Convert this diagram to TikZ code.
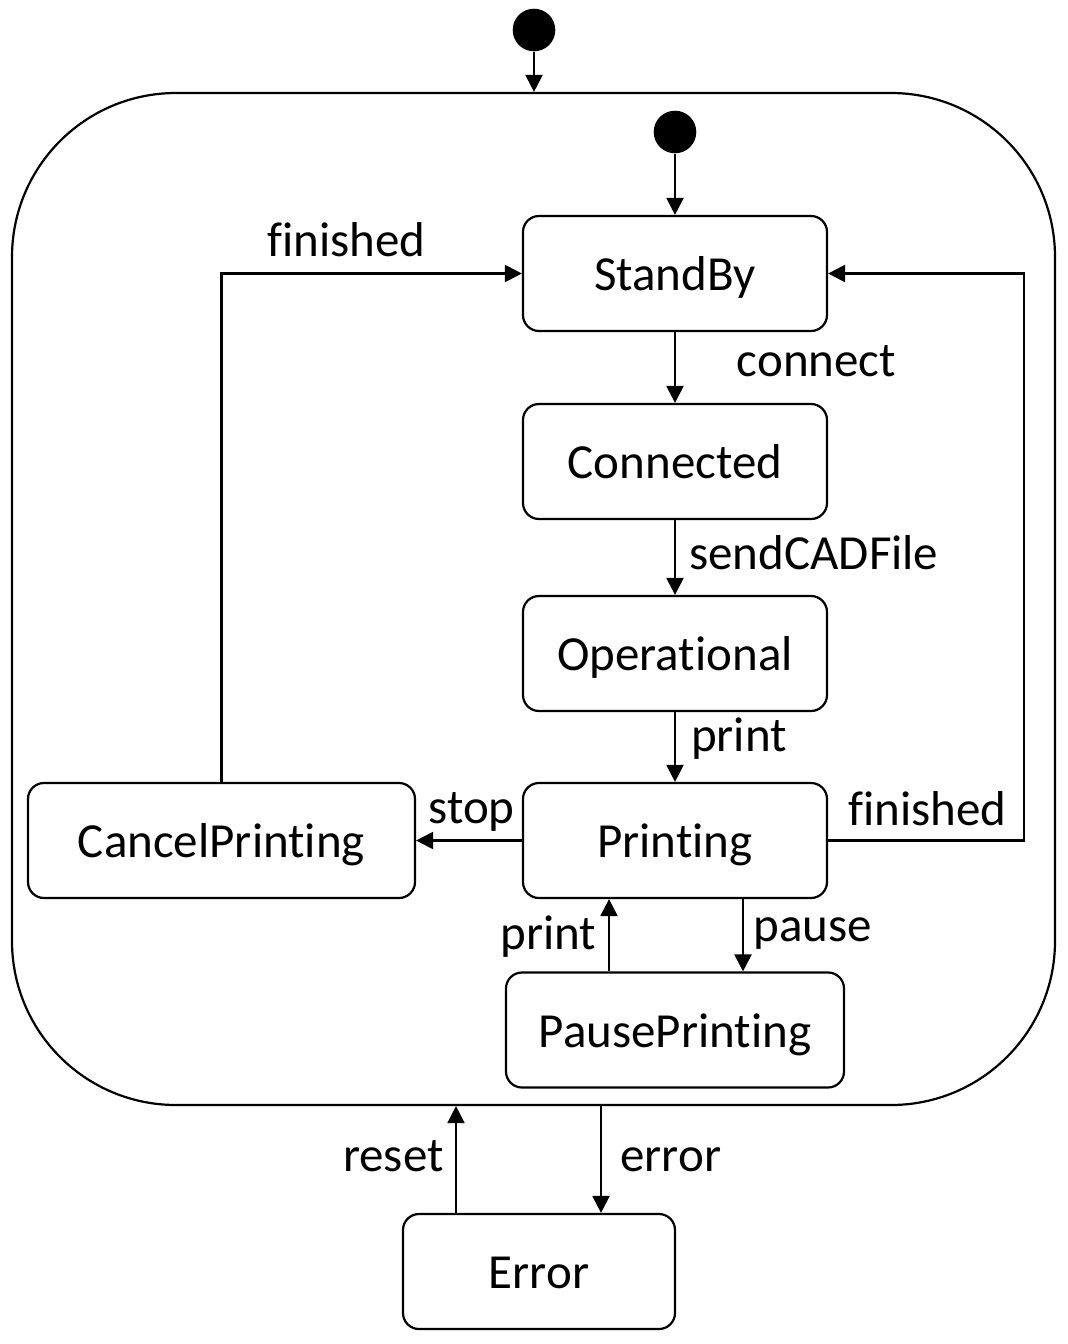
\documentclass[tikz,border=0pt]{standalone}
\usepackage{fontspec}
\setmainfont{Carlito}[Ligatures={NoCommon,NoRare,NoContextual}, Contextuals=NoAlternate]
\usetikzlibrary{arrows.meta}

\tikzset{
  every node/.style={font=\fontsize{24.5pt}{29pt}\selectfont},
  state/.style={draw, line width=1.1pt, rounded corners=8pt, minimum width=152pt,
    minimum height=57.5pt, text height=17pt, text depth=0pt},
  initial/.style={circle, fill=black, inner sep=0pt, minimum size=21.3pt},
  lbl/.style={inner sep=0pt, anchor=base west},
  arr/.style={line width=1.1pt, -{Triangle[width=8.5pt,length=8.5pt]}}
}

\begin{document}
\begin{tikzpicture}[x=0.5pt,y=-0.5pt]
\useasboundingbox (0,0) rectangle (1067,1344);
% composite state
\node[draw, line width=1.1pt, rounded corners=82pt, minimum width=521.5pt, minimum height=506pt] (machine) at (533.5,599) {};
\node[initial] (init) at (534,30) {};
\node[initial] (initIn) at (675,132) {};
% states
\node[state] (standby) at (675,273.5) {StandBy};
\node[state] (connected) at (675,461.5) {Connected};
\node[state] (operational) at (675,653.5) {Operational};
\node[state] (printing) at (675,840.5) {Printing};
\node[state, minimum width=193.5pt] (cancel) at (221.5,840.5) {CancelPrinting};
\node[state, minimum width=169pt] (pause) at (675,1030) {PausePrinting};
\node[state, minimum width=136pt] (error) at (539,1271.5) {Error};
\coordinate (pauseIn) at ([xshift=34pt]pause.north);
\coordinate (pauseOut) at ([xshift=-33pt]pause.north);
\coordinate (errIn) at ([xshift=31pt]error.north);
\coordinate (errOut) at ([xshift=-41.5pt]error.north);
% transitions
\draw[arr] (init) -- (machine.north -| init);
\draw[arr] (initIn) -- (standby);
\draw[arr] (standby) -- (connected);
\draw[arr] (connected) -- (operational);
\draw[arr] (operational) -- (printing);
\draw[arr] (printing) -- (cancel);
\draw[arr] (printing.east) -- ++(98pt,0) |- (standby.east);
\draw[arr] (cancel.north) |- (standby.west);
\draw[arr] (printing.south -| pauseIn) -- (pauseIn);
\draw[arr] (pauseOut) -- (printing.south -| pauseOut);
\draw[arr] (machine.south -| errIn) -- (errIn);
\draw[arr] (errOut) -- (machine.south -| errOut);
% labels
\node[lbl] (lblFinishedL) at (267,256.7) {finished};
\node[lbl] (lblConnect) at (736.5,376.7) {connect};
\node[lbl] (lblSend) at (689,569.3) {sendCADFile};
\node[lbl] (lblPrint) at (690.7,751.7) {print};
\node[lbl] (lblStop) at (428,823) {stop};
\node[lbl] (lblFinishedR) at (848,825) {finished};
\node[lbl] (lblPause) at (753,941) {pause};
\node[lbl] (lblPrintBack) at (500,949) {print};
\node[lbl] (lblReset) at (342.7,1171.7) {reset};
\node[lbl] (lblError) at (620,1171.7) {error};
\end{tikzpicture}
\end{document}
